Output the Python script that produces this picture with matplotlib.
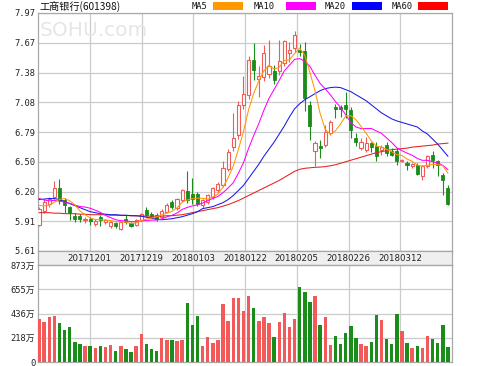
import matplotlib
matplotlib.use('Agg')
import matplotlib.pyplot as plt
from matplotlib.patches import Rectangle
import numpy as np
import pandas as pd

# ---------------- data ----------------
title = "工商银行(601398)"
dates = ["20171201", "20171219", "20180103", "20180122", "20180205", "20180226", "20180312"]
price_labels = ["5.61", "5.91", "6.20", "6.50", "6.79", "7.08", "7.38", "7.67", "7.97"]
vol_labels = ["0", "218万", "436万", "655万", "873万"]
price_min, price_max = 5.61, 7.97
vol_max = 873

opens = [5.87, 6.01, 6.08, 6.15, 6.23, 6.12, 6.05, 5.96, 5.96, 5.92,
         5.93, 5.88, 5.95, 5.90, 5.86, 5.89, 5.83, 5.93, 5.89, 5.87,
         5.92, 6.02, 5.98, 5.97, 5.95, 6.00, 6.10, 6.04, 6.12, 6.20,
         6.18, 6.18, 6.07, 6.10, 6.15, 6.21, 6.26, 6.42, 6.64, 6.76,
         7.06, 7.16, 7.50, 7.32, 7.34, 7.37, 7.39, 7.39, 7.47, 7.57,
         7.62, 7.60, 7.59, 7.06, 6.60, 6.65, 6.66, 6.78, 7.04, 7.04,
         7.06, 7.01, 6.73, 6.63, 6.61, 6.68, 6.65, 6.61, 6.66, 6.60,
         6.60, 6.50, 6.48, 6.45, 6.46, 6.35, 6.45, 6.56, 6.50, 6.36,
         6.23]
highs = [6.05, 6.13, 6.15, 6.30, 6.32, 6.14, 6.06, 5.99, 5.98, 5.95,
         5.95, 5.93, 5.97, 5.93, 5.91, 5.90, 5.91, 5.97, 5.90, 5.93,
         5.99, 6.05, 6.00, 5.99, 6.03, 6.09, 6.12, 6.14, 6.22, 6.40,
         6.33, 6.20, 6.13, 6.18, 6.24, 6.29, 6.50, 6.62, 6.98, 7.10,
         7.35, 7.54, 7.67, 7.44, 7.65, 7.70, 7.45, 7.70, 7.70, 7.68,
         7.79, 7.66, 7.68, 7.10, 6.70, 6.71, 6.86, 6.91, 7.07, 7.06,
         7.19, 7.04, 6.78, 6.73, 6.74, 6.69, 6.69, 6.66, 6.69, 6.63,
         6.63, 6.52, 6.50, 6.48, 6.48, 6.46, 6.56, 6.60, 6.51, 6.38,
         6.26]
lows = [5.86, 5.99, 6.05, 6.13, 6.08, 5.99, 5.92, 5.90, 5.90, 5.89,
        5.87, 5.86, 5.86, 5.88, 5.84, 5.84, 5.82, 5.88, 5.85, 5.86,
        5.91, 5.96, 5.94, 5.91, 5.94, 5.99, 6.03, 6.02, 6.10, 6.09,
        6.08, 6.06, 6.04, 6.08, 6.13, 6.19, 6.24, 6.40, 6.60, 6.72,
        7.02, 7.12, 7.31, 7.14, 7.30, 7.33, 7.27, 7.36, 7.44, 7.48,
        7.58, 7.54, 7.00, 6.71, 6.45, 6.53, 6.64, 6.76, 6.93, 6.94,
        6.93, 6.73, 6.65, 6.61, 6.59, 6.59, 6.50, 6.56, 6.55, 6.55,
        6.46, 6.49, 6.41, 6.43, 6.36, 6.31, 6.43, 6.43, 6.35, 6.17,
        6.07]
closes = [6.03, 6.10, 6.13, 6.23, 6.12, 6.07, 5.99, 5.93, 5.93, 5.93,
          5.91, 5.91, 5.92, 5.92, 5.90, 5.86, 5.90, 5.90, 5.86, 5.92,
          5.98, 5.97, 5.95, 5.93, 6.01, 6.07, 6.05, 6.13, 6.21, 6.12,
          6.13, 6.08, 6.12, 6.17, 6.23, 6.27, 6.43, 6.59, 6.73, 7.06,
          7.17, 7.50, 7.40, 7.35, 7.57, 7.44, 7.31, 7.49, 7.69, 7.60,
          7.75, 7.58, 7.13, 6.85, 6.68, 6.63, 6.79, 6.89, 7.02, 7.02,
          7.02, 6.81, 6.69, 6.69, 6.68, 6.64, 6.55, 6.64, 6.58, 6.56,
          6.50, 6.51, 6.46, 6.47, 6.37, 6.45, 6.55, 6.51, 6.46, 6.31,
          6.08]
# closes of the 9 sessions before the window (estimated from where MA5/MA10 start)
pre_closes = [6.25, 6.22, 6.18, 6.20, 6.15, 6.12, 6.10, 6.08, 5.98]

# volume in 万 shares
volumes = [391, 361, 406, 418, 352, 286, 316, 181, 166, 141,
           141, 126, 141, 135, 150, 99, 141, 120, 90, 141,
           256, 166, 120, 99, 217, 196, 196, 190, 196, 527,
           331, 418, 141, 226, 175, 196, 521, 370, 578, 578,
           458, 593, 488, 367, 406, 352, 226, 361, 442, 316,
           391, 677, 632, 536, 596, 337, 406, 157, 232, 166,
           262, 322, 217, 166, 141, 181, 421, 376, 211, 166,
           430, 280, 172, 126, 141, 126, 232, 211, 172, 337,
           135]

ma20 = [6.12, 6.125, 6.13, 6.13, 6.12, 6.10, 6.08, 6.06, 6.04, 6.02,
        6.00, 5.99, 5.98, 5.975, 5.97, 5.97, 5.965, 5.965, 5.96, 5.96,
        5.955, 5.945, 5.935, 5.925, 5.92, 5.925, 5.93, 5.94, 5.95, 5.965,
        5.98, 6.00, 6.03, 6.04, 6.05, 6.07, 6.09, 6.12, 6.16, 6.21,
        6.26, 6.33, 6.40, 6.47, 6.55, 6.62, 6.69, 6.77, 6.85, 6.94,
        7.02, 7.07, 7.11, 7.14, 7.17, 7.20, 7.22, 7.23, 7.235, 7.23,
        7.21, 7.19, 7.16, 7.13, 7.10, 7.06, 7.02, 6.98, 6.95, 6.92,
        6.90, 6.885, 6.87, 6.855, 6.84, 6.80, 6.77, 6.72, 6.67, 6.61,
        6.55]
ma60 = [5.99, 5.99, 5.99, 5.985, 5.985, 5.98, 5.98, 5.98, 5.975, 5.975,
        5.97, 5.97, 5.97, 5.97, 5.965, 5.965, 5.963, 5.962, 5.96, 5.958,
        5.957, 5.956, 5.955, 5.955, 5.955, 5.96, 5.96, 5.965, 5.97, 5.98,
        5.99, 6.00, 6.01, 6.02, 6.03, 6.04, 6.055, 6.07, 6.09, 6.11,
        6.135, 6.16, 6.185, 6.21, 6.235, 6.26, 6.285, 6.31, 6.34, 6.37,
        6.40, 6.42, 6.43, 6.435, 6.44, 6.442, 6.447, 6.455, 6.465, 6.48,
        6.495, 6.51, 6.525, 6.54, 6.555, 6.57, 6.585, 6.595, 6.605, 6.615,
        6.62, 6.625, 6.63, 6.64, 6.645, 6.65, 6.655, 6.66, 6.67, 6.675,
        6.68]

ma_names = ["MA5", "MA10", "MA20", "MA60"]
ma_colors = ["#ff9900", "#ff00ff", "#0000ff", "#ff0000"]
ma_line_colors = ["#ff9900", "#ff00ff", "#1a1ae6", "#e62020"]

# ---------------- derived ----------------
n = len(closes)
x = np.arange(n)
all_close = pd.Series(pre_closes + closes)
ma5 = all_close.rolling(5).mean().to_numpy()[len(pre_closes):]
ma10 = all_close.rolling(10).mean().to_numpy()[len(pre_closes):]
o = np.array(opens); c = np.array(closes); h = np.array(highs); l = np.array(lows)
up = c >= o

RED = "#f25a5a"
GREEN = "#1a8c1a"
GRID = "#cbcbcb"
SPINE = "#a8a8a8"

W, H = 499, 366
fig = plt.figure(figsize=(W / 100, H / 100), dpi=100)
fig.patch.set_facecolor("white")


def box(x0, y0, x1, y1):
    return [x0 / W, 1 - y1 / H, (x1 - x0) / W, (y1 - y0) / H]


ax = fig.add_axes(box(38, 13, 452, 251))
axd = fig.add_axes(box(38, 251, 452, 265))
axv = fig.add_axes(box(38, 265, 452, 362))

xlim = (-0.2, 80.8)
gx = [xlim[0] + k * (xlim[1] - xlim[0]) / 8 for k in range(1, 8)]

for a in (ax, axd, axv):
    a.set_xlim(*xlim)
    a.set_xticks([])
    for s in a.spines.values():
        s.set_color(SPINE)
        s.set_linewidth(0.9)

# ---- price panel ----
ax.set_ylim(price_min, price_max)
ax.set_yticks(np.linspace(price_min, price_max, len(price_labels)))
ax.set_yticklabels(price_labels, fontfamily="DejaVu Sans Mono", fontsize=6.3, color="#222222")
ax.tick_params(axis="y", length=0, pad=2)
ax.grid(axis="y", color=GRID, lw=0.9, zorder=0)
for g in gx:
    ax.axvline(g, color=GRID, lw=0.9, zorder=0)

ax.text(0.005, 0.965, "SOHU.com", transform=ax.transAxes, fontsize=14.5,
        color="#e6e6e6", ha="left", va="top", family="DejaVu Sans", zorder=0.5)

bw = 0.62
ax.vlines(x[up], l[up], h[up], color=RED, lw=0.8, zorder=2)
ax.vlines(x[~up], l[~up], h[~up], color=GREEN, lw=0.8, zorder=2)
body_lo = np.minimum(o, c)
body_h = np.maximum(np.abs(c - o), 0.008)
ax.bar(x[up], body_h[up], bottom=body_lo[up], width=bw, facecolor="white",
       edgecolor=RED, linewidth=0.8, zorder=3)
ax.bar(x[~up], body_h[~up], bottom=body_lo[~up], width=bw, facecolor=GREEN,
       edgecolor=GREEN, linewidth=0.6, zorder=3)

line_z = [4.3, 4.2, 4.1, 4.0]
for series, col, z in zip([ma5, ma10, ma20, ma60], ma_line_colors, line_z):
    ax.plot(x, series, color=col, lw=0.75, zorder=z)

# ---- date band ----
axd.set_facecolor("#efefef")
axd.set_ylim(0, 1)
axd.set_yticks([])
for g, d in zip(gx, dates):
    axd.text(g, 0.45, d, ha="center", va="center", fontsize=6.2,
             family="DejaVu Sans", color="#222222")

# ---- volume panel ----
axv.set_ylim(0, vol_max)
axv.set_yticks(np.linspace(0, vol_max, len(vol_labels)))
axv.set_yticklabels(vol_labels, fontsize=6.3, color="#222222",
                    fontfamily=["DejaVu Sans Mono", "Noto Sans CJK SC"])
axv.tick_params(axis="y", length=0, pad=2)
axv.grid(axis="y", color=GRID, lw=0.9, zorder=0)
for g in gx:
    axv.axvline(g, color=GRID, lw=0.9, zorder=0)
vol = np.array(volumes)
axv.bar(x, vol, width=0.68, color=np.where(up, RED, GREEN), zorder=3)

# ---- title & legend ----
fig.text(39 / W, 1 - 7.5 / H, title, fontsize=7.3, family=["Noto Sans CJK SC"],
         ha="left", va="center", color="#111111")
leg_text_x = [192, 254, 325, 392]
leg_box_x = [213, 286, 352, 418]
for name, col, tx, bx in zip(ma_names, ma_colors, leg_text_x, leg_box_x):
    fig.text(tx / W, 1 - 6.5 / H, name, fontsize=6.3, family="DejaVu Sans Mono",
             ha="left", va="center", color="#111111")
    fig.patches.append(Rectangle((bx / W, 1 - 9.5 / H), 30 / W, 7 / H,
                                 transform=fig.transFigure, facecolor=col,
                                 edgecolor="none"))

fig.savefig("out.png", dpi=100)
